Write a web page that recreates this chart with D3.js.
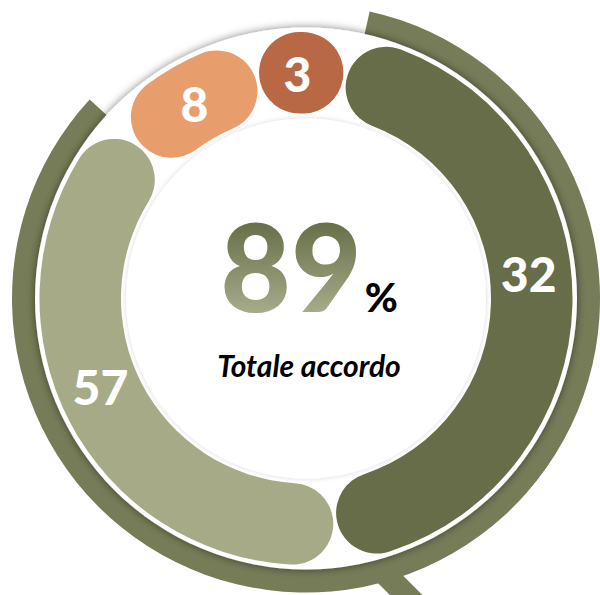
<!DOCTYPE html>
<html>
<head>
<meta charset="utf-8">
<script src="https://cdn.jsdelivr.net/npm/d3@7"></script>
<style>
  body { margin: 0; background: #fff; }
  svg { display: block; font-family: Lato, "Open Sans", sans-serif; }
</style>
</head>
<body>
<div id="chart"></div>
<script>
// data
var categories = ["32", "57", "8", "3"];
var values = [32, 57, 8, 3];
var groups = ["accordo", "accordo", "disaccordo", "disaccordo"];
// share of the ring each slice takes in the drawing (not proportional to the labels)
var shares = [45.3, 39.0, 9.6, 6.1];
var caption = "Totale accordo";

window.onload = function () {

  var width = 600, height = 595;
  var cx = 306, cy = 298.5;
  var rIn = 185, rOut = 266.5;
  var deg = Math.PI / 180;

  var colors = ["#676d48", "#a6aa86", "#e89d6c", "#b86844"];
  var ringColor = "#767c58";

  var svg = d3.select("#chart").append("svg")
    .attr("width", width)
    .attr("height", height);

  var defs = svg.append("defs");

  /* soft shadows for the two white discs */
  defs.append("filter")
    .attr("id", "discShadow")
    .attr("x", "-10%").attr("y", "-10%").attr("width", "120%").attr("height", "120%")
    .append("feDropShadow")
    .attr("dx", 0).attr("dy", 0)
    .attr("stdDeviation", 4)
    .attr("flood-color", "#000")
    .attr("flood-opacity", 0.5);

  defs.append("filter")
    .attr("id", "innerShadow")
    .attr("x", "-10%").attr("y", "-10%").attr("width", "120%").attr("height", "120%")
    .append("feDropShadow")
    .attr("dx", 0).attr("dy", 0)
    .attr("stdDeviation", 2.5)
    .attr("flood-color", "#000")
    .attr("flood-opacity", 0.16);

  var g = svg.append("g")
    .attr("transform", "translate(" + cx + "," + cy + ")");

  var rows = categories.map(function (c, i) {
    return { label: c, value: values[i], group: groups[i], share: shares[i], color: colors[i] };
  });

  var pie = d3.pie()
    .sort(null)
    .value(function (d) { return d.share; })
    .startAngle(10 * deg)
    .endAngle(370 * deg)
    .padAngle(0.011);

  var slices = pie(rows);

  var agreeSlices = slices.filter(function (d) { return d.data.group === "accordo"; });
  var totalAgree = d3.sum(agreeSlices, function (d) { return d.data.value; });

  /* gradient for the big number */
  var numTop = -75, numBottom = 14;
  var grad = defs.append("linearGradient")
    .attr("id", "numGrad")
    .attr("gradientUnits", "userSpaceOnUse")
    .attr("x1", 0).attr("y1", numTop)
    .attr("x2", 0).attr("y2", numBottom);
  grad.append("stop").attr("offset", "0%").attr("stop-color", "#677049");
  grad.append("stop").attr("offset", "100%").attr("stop-color", "#a6ab89");

  // little tail coming out of the bottom of the outer ring
  var tailAngle = 167 * deg, tailR = 262;
  var tx = tailR * Math.sin(tailAngle), ty = -tailR * Math.cos(tailAngle);
  g.append("line")
    .attr("x1", tx).attr("y1", ty)
    .attr("x2", tx + 80).attr("y2", ty + 80)
    .attr("stroke", ringColor)
    .attr("stroke-width", 23);

  /* outer thin ring covering the "accordo" slices */
  var ringArc = d3.arc()
    .innerRadius(262)
    .outerRadius(294);

  g.append("path")
    .attr("d", ringArc({
      startAngle: agreeSlices[0].startAngle + 2.5 * deg,
      endAngle: agreeSlices[agreeSlices.length - 1].endAngle
    }))
    .attr("fill", ringColor);

  // white disc on top of the ring
  g.append("circle")
    .attr("r", 271)
    .attr("fill", "#fff")
    .attr("filter", "url(#discShadow)");

  /* the rounded slices */
  var arc = d3.arc()
    .innerRadius(rIn)
    .outerRadius(rOut)
    .cornerRadius(42);

  g.selectAll(".slice")
    .data(slices)
    .enter().append("path")
    .attr("class", "slice")
    .attr("d", arc)
    .attr("fill", function (d) { return d.data.color; });

  // inner white disc
  g.append("circle")
    .attr("r", 180)
    .attr("fill", "#fff")
    .attr("filter", "url(#innerShadow)");

  /* slice labels */
  var labelShift = [-7.5, 4, 0, -1];
  var labelR = 224;
  g.selectAll(".lbl")
    .data(slices)
    .enter().append("text")
    .attr("class", "lbl")
    .attr("text-anchor", "middle")
    .attr("x", function (d, i) {
      var a = (d.startAngle + d.endAngle) / 2 + labelShift[i] * deg;
      return labelR * Math.sin(a);
    })
    .attr("y", function (d, i) {
      var a = (d.startAngle + d.endAngle) / 2 + labelShift[i] * deg;
      return -labelR * Math.cos(a);
    })
    .attr("dy", "0.36em")
    .attr("fill", "#fff")
    .attr("font-size", 48)
    .attr("font-weight", 900)
    .text(function (d) { return d.data.label; });

  /* centre text */
  var big = g.append("text")
    .attr("text-anchor", "middle")
    .attr("x", 3)
    .attr("y", 13.5)
    .attr("font-weight", 900);
  big.append("tspan")
    .attr("font-size", 122)
    .attr("fill", "url(#numGrad)")
    .text(totalAgree);
  big.append("tspan")
    .attr("font-size", 40)
    .attr("dx", 3)
    .attr("fill", "#000")
    .text("%");

  g.append("text")
    .attr("text-anchor", "middle")
    .attr("x", 3)
    .attr("y", 78.5)
    .attr("font-size", 30)
    .attr("font-weight", 700)
    .attr("font-style", "italic")
    .attr("fill", "#000")
    .text(caption);

};
</script>
</body>
</html>
